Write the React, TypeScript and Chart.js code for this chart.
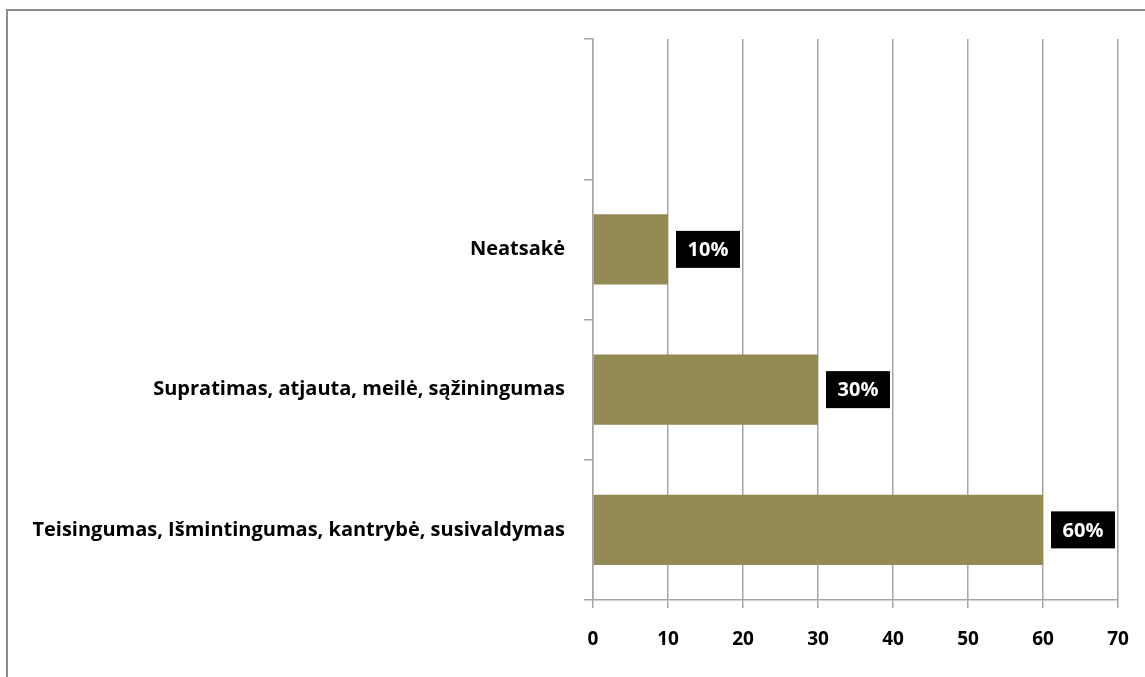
import React, { useEffect, useRef } from "react";
import { Chart, registerables } from "chart.js";

Chart.register(...registerables);

const categories = ["", "Neatsakė", "Supratimas, atjauta, meilė, sąžiningumas", "Teisingumas, Išmintingumas, kantrybė, susivaldymas"];
const values: (number | null)[] = [null, 10, 30, 60];
const valueLabels = ["", "10%", "30%", "60%"];
const xTicks = [0, 10, 20, 30, 40, 50, 60, 70];

const FONT = "'Open Sans', 'Noto Sans', sans-serif";

const framePlugin = {
  id: "frame",
  beforeDraw(chart: any) {
    const ctx = chart.ctx;
    ctx.save();
    ctx.strokeStyle = "#8c8c8c";
    ctx.lineWidth = 2;
    ctx.beginPath();
    ctx.moveTo(7, 677);
    ctx.lineTo(7, 10);
    ctx.lineTo(1145, 10);
    ctx.stroke();
    ctx.restore();
  },
};

const labelPlugin = {
  id: "boxLabels",
  afterDatasetsDraw(chart: any) {
    const ctx = chart.ctx;
    const meta = chart.getDatasetMeta(0);
    ctx.save();
    meta.data.forEach((bar: any, i: number) => {
      const v = values[i];
      if (v == null) return;
      const txt = valueLabels[i];
      const x0 = bar.x + 8;
      const w = 64;
      const h = 37;
      const y0 = bar.y - h / 2;
      ctx.fillStyle = "#000000";
      ctx.fillRect(x0, y0, w, h);
      ctx.fillStyle = "#ffffff";
      ctx.font = `bold 20px ${FONT}`;
      ctx.textAlign = "center";
      ctx.textBaseline = "middle";
      ctx.fillText(txt, x0 + w / 2, bar.y + 1);
    });
    ctx.restore();
  },
};

export default function App() {
  const ref = useRef<HTMLCanvasElement>(null);
  useEffect(() => {
    document.body.style.margin = "0";
    const chart = new Chart(ref.current!, {
      type: "bar",
      data: {
        labels: categories,
        datasets: [
          {
            data: values,
            backgroundColor: "#948a54",
            categoryPercentage: 1,
            barPercentage: 0.5,
          },
        ],
      },
      options: {
        indexAxis: "y",
        animation: false,
        responsive: false,
        devicePixelRatio: 1,
        layout: { padding: { left: 0, right: 27, top: 39, bottom: 0 } },
        plugins: { legend: { display: false }, tooltip: { enabled: false } },
        scales: {
          x: {
            min: 0,
            max: 70,
            afterBuildTicks(scale: any) {
              scale.ticks = xTicks.map((v) => ({ value: v }));
            },
            afterFit(scale: any) {
              scale.height = 77;
              scale.paddingLeft = 0;
              scale.paddingRight = 0;
            },
            grid: { color: "#a6a6a6", lineWidth: 1.5, tickLength: 8, drawOnChartArea: true },
            border: { display: true, color: "#a6a6a6", width: 1.5 },
            ticks: {
              color: "#000000",
              font: { family: FONT, size: 19, weight: "bold" },
              padding: 20,
            },
          },
          y: {
            afterFit(scale: any) {
              scale.width = 593;
            },
            grid: { color: "#a6a6a6", lineWidth: 1.5, tickLength: 9, drawOnChartArea: false, offset: true },
            border: { display: true, color: "#a6a6a6", width: 1.5 },
            ticks: {
              color: "#000000",
              font: { family: FONT, size: 20, weight: "bold" },
              padding: 19,
            },
          },
        },
      },
      plugins: [framePlugin, labelPlugin],
    });
    return () => chart.destroy();
  }, []);
  return (
    <div style={{ width: 1145, height: 677, background: "#ffffff" }}>
      <canvas ref={ref} width={1145} height={677} />
    </div>
  );
}
